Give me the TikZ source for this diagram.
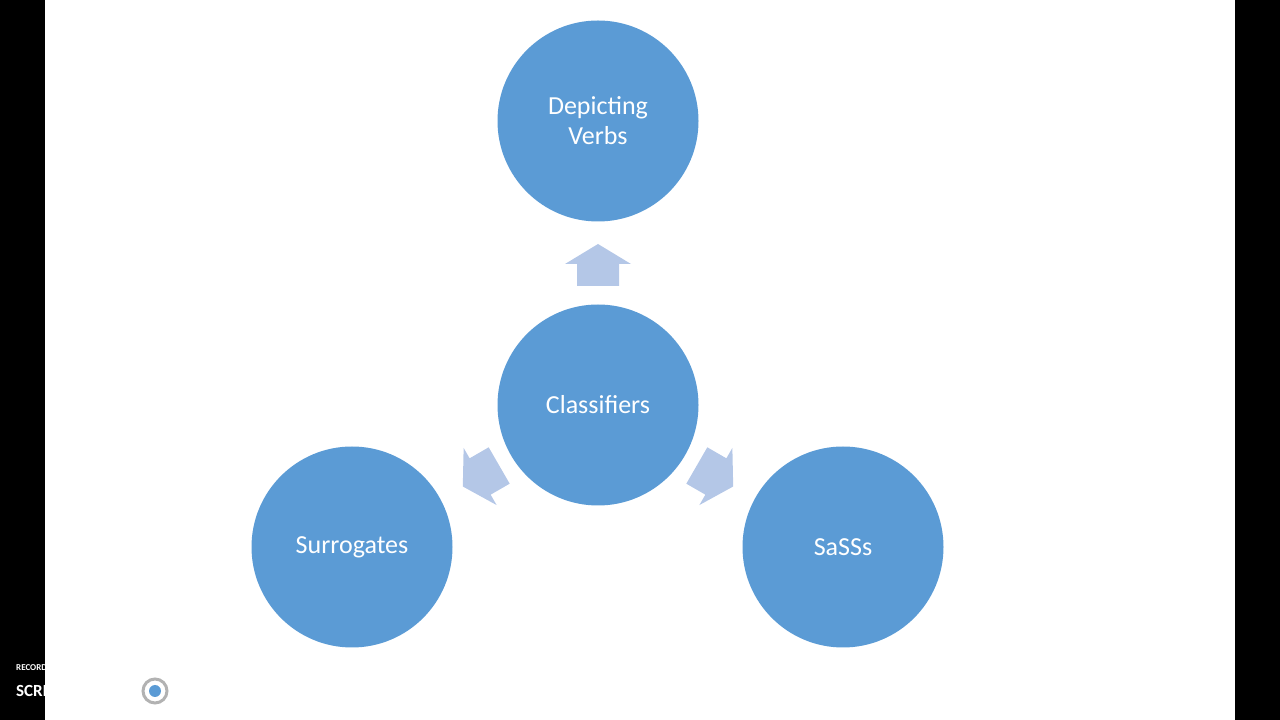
\documentclass[tikz,border=0pt]{standalone}
\usepackage{fontspec}
\setmainfont{Carlito}
\begin{document}
\begin{tikzpicture}[x=1pt,y=1pt,
  circ/.style={circle,fill=cblue,minimum size=201pt,inner sep=0pt,text=white,font=\fontsize{26}{30}\selectfont,align=center},
  barrow/.style={fill=ablue},
  wm/.style={text=white,font=\bfseries,inner sep=0pt,anchor=west}]
\definecolor{cblue}{HTML}{5B9BD5}
\definecolor{ablue}{HTML}{B4C7E7}
\useasboundingbox (0,0) rectangle (1280,720);
\fill[black] (0,0) rectangle (45,720);
\fill[black] (1235,0) rectangle (1280,720);
\node[circ] (top) at (598,599) {Depicting\\Verbs};
\node[circ] (mid) at (598,315) {Classifiers};
\node[circ] (left) at (352,173) {Surrogates};
\node[circ] (right) at (843,173) {SaSSs};
\foreach \px/\py/\a in {598/455/90,481/244/210,715/244/-30}{
  \begin{scope}[shift={(\px,\py)},rotate=\a]
    \fill[barrow] (-21,-21) -- (1,-21) -- (1,-33) -- (21,0) -- (1,33) -- (1,21) -- (-21,21) -- cycle;
  \end{scope}}
\node[wm,font=\bfseries\fontsize{9}{10}\selectfont] (rec) at (16,52) {RECORDED WITH};
\node[wm,font=\bfseries\fontsize{17}{18}\selectfont] (sc) at (16,29) {SCREENCAST};
\coordinate (ic) at (155,29);
\draw[line width=3pt,gray!60] (ic) circle (12);
\fill[cblue] (ic) circle (6);
\node[wm,font=\bfseries\fontsize{17}{18}\selectfont] (ma) at (172,29) {MATIC};
\end{tikzpicture}
\end{document}
